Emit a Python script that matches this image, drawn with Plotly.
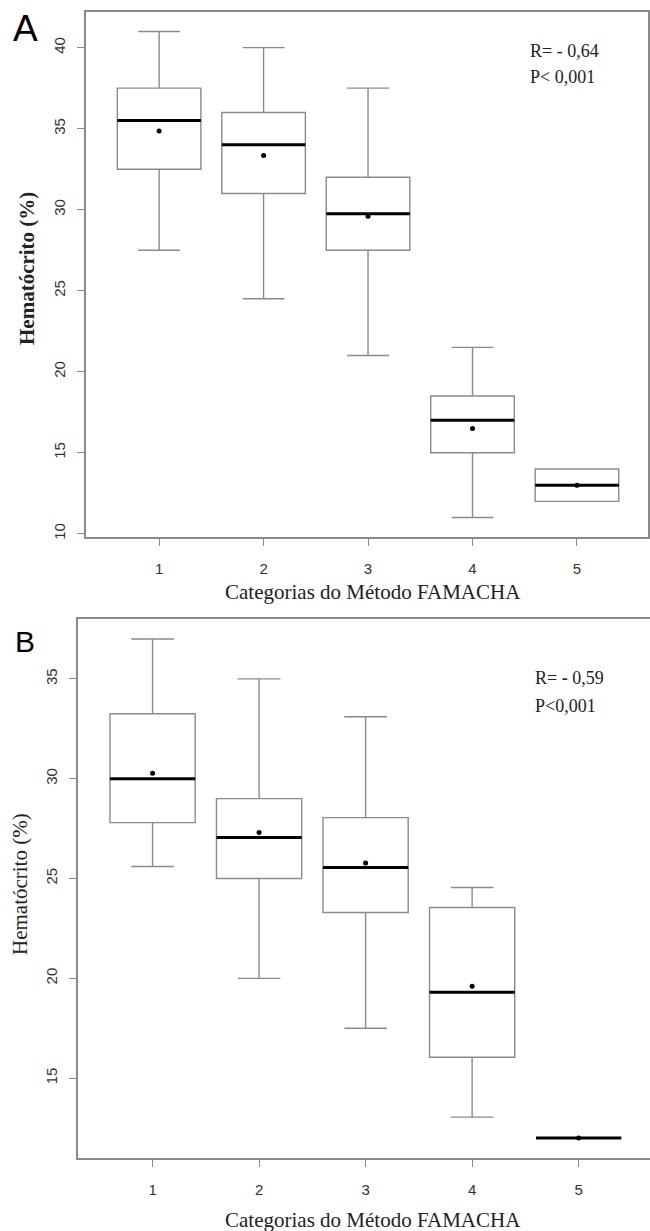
import plotly.graph_objects as go

W, H = 650, 1231

categories = [1, 2, 3, 4, 5]
tick_labels = ["1", "2", "3", "4", "5"]

# Panel A: hematocrit by FAMACHA category
a_lower = [27.5, 24.5, 21.0, 11.0, 12.0]
a_q1 = [32.5, 31.0, 27.5, 15.0, 12.0]
a_median = [35.5, 34.0, 29.75, 17.0, 13.0]
a_q3 = [37.5, 36.0, 32.0, 18.5, 14.0]
a_upper = [41.0, 40.0, 37.5, 21.5, 14.0]
a_mean = [34.85, 33.35, 29.6, 16.5, 13.0]

# Panel B
b_lower = [25.6, 20.0, 17.5, 13.05, 12.0]
b_q1 = [27.8, 25.0, 23.3, 16.05, 12.0]
b_median = [30.0, 27.05, 25.55, 19.3, 12.0]
b_q3 = [33.25, 29.0, 28.05, 23.55, 12.0]
b_upper = [37.0, 35.0, 33.1, 24.55, 12.0]
b_mean = [30.27, 27.3, 25.78, 19.6, 12.0]

a_ticks = [10, 15, 20, 25, 30, 35, 40]
b_ticks = [15, 20, 25, 30, 35]

GRAY = "#8a8a8a"
SERIF = "Liberation Serif, Times New Roman, serif"
SANS = "Liberation Sans, Arial, sans-serif"


def px(x):
    return x / W


def py(y):
    return 1 - y / H


fig = go.Figure()


def add_panel(xa, ya, lower, q1, med, q3, upper, mean):
    fig.add_trace(go.Box(
        x=categories, q1=q1, median=med, q3=q3,
        lowerfence=lower, upperfence=upper,
        width=0.8, whiskerwidth=0.5,
        fillcolor="white", line=dict(color=GRAY, width=1.4),
        xaxis=xa, yaxis=ya, showlegend=False, hoverinfo="skip",
    ))
    # thick median line
    fig.add_trace(go.Box(
        x=categories, q1=med, median=med, q3=med,
        lowerfence=med, upperfence=med,
        width=0.8, whiskerwidth=0.0,
        fillcolor="rgba(0,0,0,0)", line=dict(color="black", width=3),
        xaxis=xa, yaxis=ya, showlegend=False, hoverinfo="skip",
    ))
    fig.add_trace(go.Scatter(
        x=categories, y=mean, mode="markers",
        marker=dict(color="black", size=5),
        xaxis=xa, yaxis=ya, showlegend=False, hoverinfo="skip",
    ))


add_panel("x", "y", a_lower, a_q1, a_median, a_q3, a_upper, a_mean)
add_panel("x2", "y2", b_lower, b_q1, b_median, b_q3, b_upper, b_mean)

xcommon = dict(
    tickmode="array", tickvals=categories, ticktext=tick_labels,
    showgrid=False, zeroline=False, showline=True, linecolor=GRAY, linewidth=1.5,
    ticks="outside", ticklen=7, tickcolor=GRAY, tickwidth=1.3,
    tickfont=dict(family=SANS, size=15, color="#333"),
    ticklabelstandoff=10, automargin=False,
)
ycommon = dict(
    showgrid=False, zeroline=False, showline=True, linecolor=GRAY, linewidth=1.5,
    ticks="outside", ticklen=7, tickcolor=GRAY, tickwidth=1.3,
    tickfont=dict(family=SANS, size=15, color="#333"), tickangle=-90,
    ticklabelstandoff=6, automargin=False,
)

fig.update_layout(
    width=W, height=H, margin=dict(l=0, r=0, t=0, b=0),
    paper_bgcolor="white", plot_bgcolor="white",
    xaxis=dict(domain=[px(86), px(648)], range=[0.3, 5.68], anchor="y", mirror=True, **xcommon),
    yaxis=dict(domain=[py(537), py(12)], range=[9.8, 42.2], anchor="x", mirror=True,
               tickvals=a_ticks, **ycommon),
    xaxis2=dict(domain=[px(78), 1.0], range=[0.3, 5.67], anchor="y2", mirror=True, **xcommon),
    yaxis2=dict(domain=[py(1158), py(619)], range=[11, 38], anchor="x2", mirror=False,
                tickvals=b_ticks, **ycommon),
)

ann = []
ann.append(dict(text="A", x=px(25), y=py(29), font=dict(family=SANS, size=37, color="black")))
ann.append(dict(text="B", x=px(25), y=py(641), font=dict(family=SANS, size=30, color="black")))
ann.append(dict(text="<b>Hematócrito (%)</b>", x=px(27), y=py(269), textangle=-90,
                font=dict(family=SERIF, size=21, color="#222")))
ann.append(dict(text="Hematócrito (%)", x=px(20), y=py(884), textangle=-90,
                font=dict(family=SERIF, size=21, color="#222")))
ann.append(dict(text="Categorias do Método FAMACHA", x=px(373), y=py(592),
                font=dict(family=SERIF, size=21, color="#222")))
ann.append(dict(text="Categorias do Método FAMACHA", x=px(373), y=py(1220),
                font=dict(family=SERIF, size=21, color="#222")))
ann.append(dict(text="R= - 0,64", x=px(528), y=py(51), xanchor="left",
                font=dict(family=SERIF, size=18, color="#222")))
ann.append(dict(text="P< 0,001", x=px(528), y=py(77), xanchor="left",
                font=dict(family=SERIF, size=18, color="#222")))
ann.append(dict(text="R= <b>-</b> 0,59", x=px(533), y=py(678), xanchor="left",
                font=dict(family=SERIF, size=18, color="#222")))
ann.append(dict(text="P<0,001", x=px(533), y=py(706), xanchor="left",
                font=dict(family=SERIF, size=18, color="#222")))

for a in ann:
    a.setdefault("xanchor", "center")
    a.update(xref="paper", yref="paper", yanchor="middle", showarrow=False)
fig.update_layout(annotations=ann)

fig.write_html(
    "out.html",
    config={"displayModeBar": False},
    post_script="document.body.style.margin='0';document.body.style.overflow='hidden';",
)
